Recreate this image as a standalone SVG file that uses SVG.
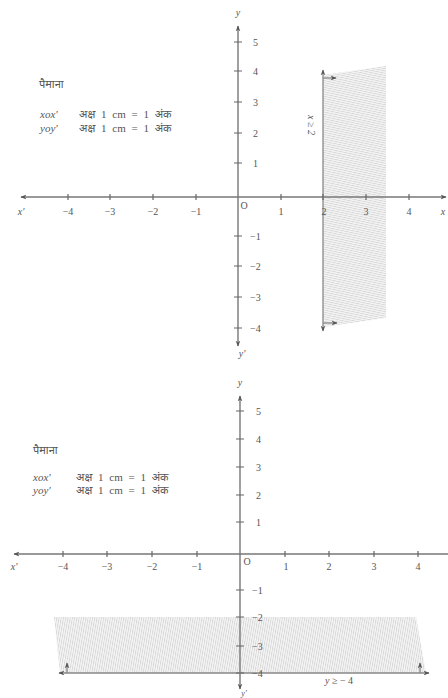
<svg xmlns="http://www.w3.org/2000/svg" width="448" height="698" viewBox="0 0 448 698">
<style>
.ax{stroke:#777;stroke-width:1.4;fill:none}
.tk{stroke:#666;stroke-width:1.2}
.ln{stroke:#888;stroke-width:1.3;fill:none}
text{font-family:"Liberation Serif","Noto Sans",serif;fill:#555;font-size:10px}
.c{text-anchor:middle}
.i{font-style:italic}
.s{font-size:11px;word-spacing:3px}
.hatchA{fill:url(#hA)}
.hatchB{fill:url(#hB)}
</style>
<defs>
<marker id="ah" viewBox="0 0 10 10" refX="9" refY="5" markerWidth="6" markerHeight="6" orient="auto-start-reverse" markerUnits="userSpaceOnUse">
<path d="M0,1 L10,5 L0,9 L3,5 Z" fill="#555"/>
</marker>
<pattern id="hA" width="4" height="2.2" patternUnits="userSpaceOnUse" patternTransform="rotate(12)">
<rect width="4" height="2.2" fill="#f6f6f6"/>
<line x1="0" y1="0.5" x2="4" y2="0.5" stroke="#c8c8c8" stroke-width="0.7"/>
</pattern>
<pattern id="hB" width="2.2" height="4" patternUnits="userSpaceOnUse" patternTransform="rotate(10)">
<rect width="2.2" height="4" fill="#f6f6f6"/>
<line x1="0.5" y1="0" x2="0.5" y2="4" stroke="#c8c8c8" stroke-width="0.7"/>
</pattern>
</defs>

<g id="graph1">
<g id="region1"><polygon class="hatchA" points="323,75 386,66 386,318 323,327"/></g>
<g id="scale1">
<text x="39" y="88" class="s">पैमाना</text>
<text x="40" y="118" class="s i">xox'</text><text x="79" y="118" class="s">अक्ष 1 cm = 1 अंक</text>
<text x="40" y="132" class="s i">yoy'</text><text x="79" y="132" class="s">अक्ष 1 cm = 1 अंक</text>
</g>
<g id="connectors1">
<line class="ax" x1="21" y1="197" x2="446" y2="197" marker-start="url(#ah)" marker-end="url(#ah)"/>
<line class="ax" x1="238" y1="26" x2="238" y2="346" marker-start="url(#ah)" marker-end="url(#ah)"/>
<line class="ln" x1="323" y1="70" x2="323" y2="331" marker-start="url(#ah)" marker-end="url(#ah)"/>
<line class="ln" x1="323" y1="78" x2="336" y2="78" marker-end="url(#ah)"/>
<line class="ln" x1="323" y1="323" x2="337" y2="323" marker-end="url(#ah)"/>
</g>
<g id="ticks1">
<path class="tk" d="M68,194v6M110,194v6M153,194v6M196,194v6M281,194v6M323,194v6M366,194v6M409,194v6"/>
<path class="tk" d="M234,42h8M234,71h8M234,102h8M234,133h8M234,163h8M234,236h8M234,266h8M234,297h8M234,328h8"/>
</g>
<g id="labels1">
<text x="21" y="215" class="c i">x'</text>
<text x="68" y="215" class="c">−4</text>
<text x="110" y="215" class="c">−3</text>
<text x="153" y="215" class="c">−2</text>
<text x="196" y="215" class="c">−1</text>
<text x="244" y="209" class="c">O</text>
<text x="281" y="215" class="c">1</text>
<text x="324" y="215" class="c">2</text>
<text x="366" y="215" class="c">3</text>
<text x="409" y="215" class="c">4</text>
<text x="443" y="215" class="c i">x</text>
<text x="238" y="16" class="c i">y</text>
<text x="253" y="46">5</text>
<text x="253" y="75">4</text>
<text x="253" y="106">3</text>
<text x="253" y="137">2</text>
<text x="253" y="167">1</text>
<text x="250" y="240">−1</text>
<text x="250" y="270">−2</text>
<text x="250" y="301">−3</text>
<text x="250" y="332">−4</text>
<text x="242" y="357" class="c i">y'</text>
<text x="0" y="0" class="c i" transform="translate(308,125) rotate(90)">x ≥ 2</text>
</g>
</g>

<g id="graph2">
<g id="region2"><polygon class="hatchB" points="54,617 416,617 426,673 60,673"/></g>
<g id="scale2">
<text x="33" y="454" class="s">पैमाना</text>
<text x="33" y="481" class="s i">xox'</text><text x="76" y="481" class="s">अक्ष 1 cm = 1 अंक</text>
<text x="33" y="494" class="s i">yoy'</text><text x="76" y="494" class="s">अक्ष 1 cm = 1 अंक</text>
</g>
<g id="connectors2">
<line class="ax" x1="14" y1="554" x2="448" y2="554" marker-start="url(#ah)"/>
<line class="ax" x1="240" y1="396" x2="240" y2="689" marker-start="url(#ah)" marker-end="url(#ah)"/>
<line class="ln" x1="59" y1="673" x2="429" y2="673" marker-start="url(#ah)" marker-end="url(#ah)"/>
<line class="ln" x1="67" y1="673" x2="67" y2="663" marker-end="url(#ah)"/>
<line class="ln" x1="420" y1="673" x2="420" y2="663" marker-end="url(#ah)"/>
</g>
<g id="ticks2">
<path class="tk" d="M63,551v6M107,551v6M152,551v6M197,551v6M285,551v6M329,551v6M374,551v6M418,551v6"/>
<path class="tk" d="M236,411h8M236,439h8M236,467h8M236,495h8M236,522h8M236,590h8M236,617h8M236,646h8M236,673h8"/>
</g>
<g id="labels2">
<text x="14" y="570" class="c i">x'</text>
<text x="63" y="570" class="c">−4</text>
<text x="107" y="570" class="c">−3</text>
<text x="152" y="570" class="c">−2</text>
<text x="197" y="570" class="c">−1</text>
<text x="247" y="565" class="c">O</text>
<text x="286" y="570" class="c">1</text>
<text x="329" y="570" class="c">2</text>
<text x="374" y="570" class="c">3</text>
<text x="418" y="570" class="c">4</text>
<text x="240" y="386" class="c i">y</text>
<text x="256" y="415">5</text>
<text x="256" y="443">4</text>
<text x="256" y="471">3</text>
<text x="256" y="499">2</text>
<text x="256" y="526">1</text>
<text x="252" y="594">−1</text>
<text x="252" y="621">−2</text>
<text x="252" y="650">−3</text>
<text x="252" y="677">−4</text>
<text x="244" y="696" class="c i" style="font-size:8px">y'</text>
<text x="339" y="684" class="c"><tspan class="i">y</tspan> ≥ − 4</text>
</g>
</g>
</svg>
